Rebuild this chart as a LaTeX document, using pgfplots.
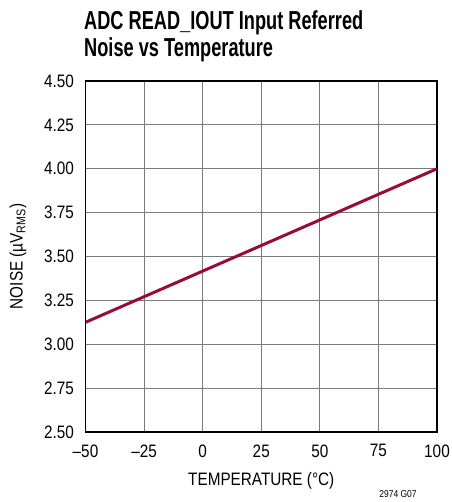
\documentclass[border=0pt]{standalone}
\usepackage{fontspec}
\setmainfont{Liberation Sans}[FakeStretch=0.85]
\newfontfamily\titlefont{Liberation Sans}[FakeStretch=0.70]
\usepackage{pgfplots}
\pgfplotsset{compat=1.18}
\definecolor{linered}{HTML}{990C37}
\definecolor{gridgray}{HTML}{7A7A7A}
\begin{document}
\begin{tikzpicture}[x=1pt,y=1pt]
\useasboundingbox (0,0) rectangle (451,502);
\begin{axis}[
  at={(85.5pt,70pt)}, anchor=south west,
  scale only axis, width=351.5pt, height=351pt,
  xmin=-50, xmax=100, ymin=2.5, ymax=4.5,
  xtick={-50,-25,0,25,50,75,100},
  xticklabels={\textendash50,\textendash25,0,25,50,75,100},
  ytick={2.5,2.75,3,3.25,3.5,3.75,4,4.25,4.5},
  yticklabels={2.50,2.75,3.00,3.25,3.50,3.75,4.00,4.25,4.50},
  major tick length=0pt,
  grid=major,
  major grid style={gridgray, line width=1.1pt},
  axis line style={black, line width=1.5pt},
  tick label style={font=\fontsize{18}{20}\selectfont},
  xticklabel style={yshift=-9pt},
  yticklabel style={xshift=-8pt},
  label style={font=\fontsize{18}{20}\selectfont},
  xlabel={TEMPERATURE (°C)},
  ylabel={NOISE (µV\textsubscript{RMS})},
  xlabel style={yshift=-8pt},
  ylabel style={yshift=11pt},
]
\addplot[linered, line width=3pt] coordinates {(-50,3.125) (100,4.00)};
\end{axis}
\node[anchor=base west, font=\titlefont\bfseries\fontsize{26}{28}\selectfont, inner sep=0pt] at (84,472) {ADC READ\_IOUT Input Referred};
\node[anchor=base west, font=\titlefont\bfseries\fontsize{26}{28}\selectfont, inner sep=0pt] at (84,445) {Noise vs Temperature};
\node[anchor=base, font=\fontsize{10}{12}\selectfont, inner sep=0pt] at (398,5) {2974 G07};
\end{tikzpicture}
\end{document}
